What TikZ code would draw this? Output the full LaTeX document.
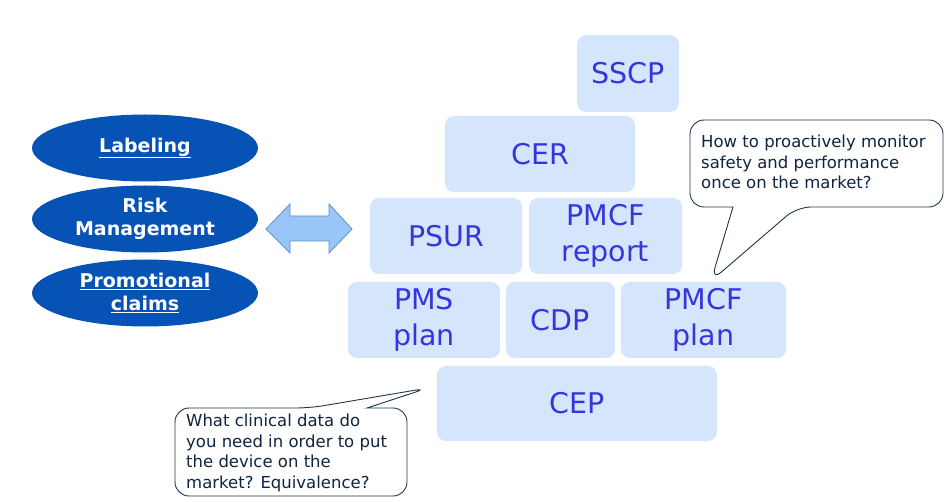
\documentclass[tikz,border=0pt]{standalone}
\usepackage{fontspec}
\setmainfont{DejaVu Sans}
\usetikzlibrary{shapes.geometric}
\definecolor{boxfill}{HTML}{D5E6FC}
\definecolor{boxtext}{HTML}{3535DD}
\definecolor{ellfill}{HTML}{0652B5}
\definecolor{arrfill}{HTML}{99C6F7}
\definecolor{arrdraw}{HTML}{5B8FD0}
\definecolor{calldraw}{HTML}{1F3550}
\definecolor{calltext}{HTML}{0F2440}
\tikzset{
  blk/.style={fill=boxfill, rounded corners=9pt, inner sep=0pt, align=center,
    text=boxtext, font=\fontsize{28.5}{36}\selectfont},
  ell/.style={ellipse, fill=ellfill, minimum width=226pt, minimum height=67pt, inner sep=0pt,
    text=white, align=center, font=\bfseries\fontsize{19}{23}\selectfont},
  callout/.style={draw=calldraw, line width=0.9pt, fill=white, rounded corners=14pt},
  calltxt/.style={anchor=north west, inner sep=0pt, align=left, text=calltext,
    font=\fontsize{16.5}{20.6}\selectfont},
}
\begin{document}
\begin{tikzpicture}[x=1pt,y=-1pt]
\useasboundingbox (0,0) rectangle (945,502);
% boxes
\newcommand{\blkbox}[6]{\node[blk, minimum width=#4-#2, minimum height=#5-#3] (#1) at ({(#2+#4)/2},{(#3+#5)/2}) {#6};}
\blkbox{sscp}{577}{35}{679}{112}{SSCP}
\blkbox{cer}{445}{116}{635}{192}{CER}
\blkbox{psur}{370}{198}{522}{274}{PSUR}
\blkbox{pmcfr}{529}{198}{682}{274}{PMCF\\report}
\blkbox{pms}{348}{282}{500}{358}{PMS\\plan}
\blkbox{cdp}{506}{282}{615}{358}{CDP}
\blkbox{pmcfp}{621}{282}{786}{358}{PMCF\\plan}
\blkbox{cep}{437}{366}{717}{441}{CEP}
% ellipses
\node[ell] (lab) at (145,148) {\underline{Labeling}};
\node[ell] (risk) at (145,219) {Risk\\Management};
\node[ell] (promo) at (145,293) {\underline{Promotional}\\\underline{claims}};
% double arrow
\coordinate (dl) at (266,229);
\coordinate (dr) at (352,229);
\filldraw[fill=arrfill, draw=arrdraw, line width=0.8pt, line join=miter]
  (dl) -- (290,204) -- (290,216) -- (329,216) -- (329,204) -- (dr)
  -- (329,253) -- (329,241) -- (290,241) -- (290,253) -- cycle;
% callout 1
\coordinate (tip1) at (711,281);
\draw[callout] (733,207) -- (tip1) -- (797,207) [rounded corners=14pt] -- (943,207) -- (943,120) -- (690,120) -- (690,207) [sharp corners] -- cycle;
\node[calltxt] (c1) at (701,135) {How to proactively monitor\\safety and performance\\once on the market?};
% callout 2
\coordinate (tip2) at (428,388);
\draw[callout] (367,408) -- (tip2) -- (310,408) [rounded corners=14pt] -- (175,408) -- (175,496) -- (407,496) -- (407,408) [sharp corners] -- cycle;
\node[calltxt] (c2) at (186,414) {What clinical data do\\you need in order to put\\the device on the\\market? Equivalence?};
\end{tikzpicture}
\end{document}
